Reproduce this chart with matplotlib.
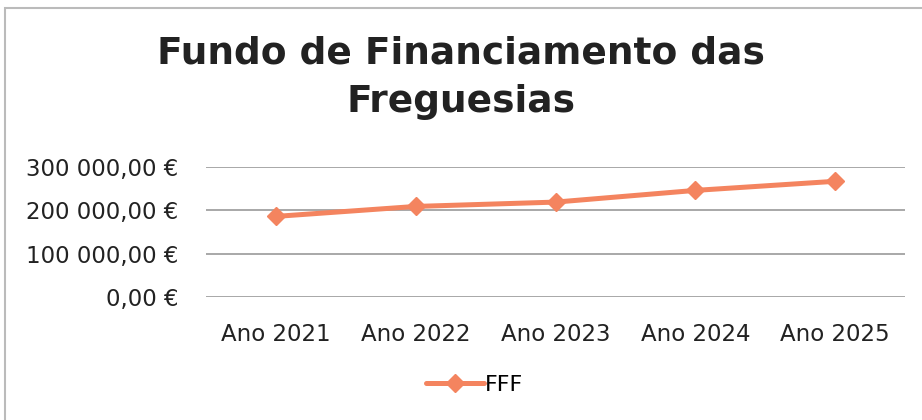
import matplotlib
matplotlib.use("Agg")
import matplotlib.pyplot as plt
from matplotlib.ticker import FuncFormatter
from matplotlib.patches import Rectangle

categories = ["Ano 2021", "Ano 2022", "Ano 2023", "Ano 2024", "Ano 2025"]
fff = [186000, 209000, 219000, 246000, 267000]
yticks = [0, 100000, 200000, 300000]
title = "Fundo de Financiamento das\nFreguesias"
series_name = "FFF"

plt.rcParams['font.family'] = ['DejaVu Sans']

fig = plt.figure(figsize=(9.22, 4.2), dpi=100)
ax = fig.add_axes([206/922, 1-297/420, (905-206)/922, (297-167)/420])

x = list(range(len(categories)))
ax.plot(x, fff, color="#F4845F", lw=3.6, marker="D", ms=9, label=series_name,
        solid_capstyle="round", zorder=3)

ax.set_xlim(-0.5, len(categories)-0.5)
ax.set_ylim(0, 300000)
ax.set_yticks(yticks)
def fmt(v, pos):
    s = f"{int(v):,}".replace(",", " ")
    return f"{s},00 €"
ax.yaxis.set_major_formatter(FuncFormatter(fmt))
ax.set_xticks(x)
ax.set_xticklabels(categories)
ax.tick_params(axis="both", length=0, labelsize=16.5, colors="#222222")
ax.tick_params(axis="y", pad=20)
ax.tick_params(axis="x", pad=19)
ax.grid(axis="y", color="#999999", lw=1.2)
ax.set_axisbelow(True)
for s in ax.spines.values():
    s.set_visible(False)

fig.text(0.5, 1-78/420, title, ha="center", va="center", fontsize=27,
         fontweight="bold", color="#222222", linespacing=1.45)

leg = fig.legend(loc="center", bbox_to_anchor=(0.515, 1-385/420), frameon=False,
                 fontsize=16, handlelength=2.6, handletextpad=0.05)

fig.patches.append(Rectangle((5/922, -0.01), 1.2, 1-8/420+0.01, transform=fig.transFigure,
                             fill=False, edgecolor="#bbbbbb", lw=1.5))
fig.savefig("out.png", dpi=100, facecolor="white")
